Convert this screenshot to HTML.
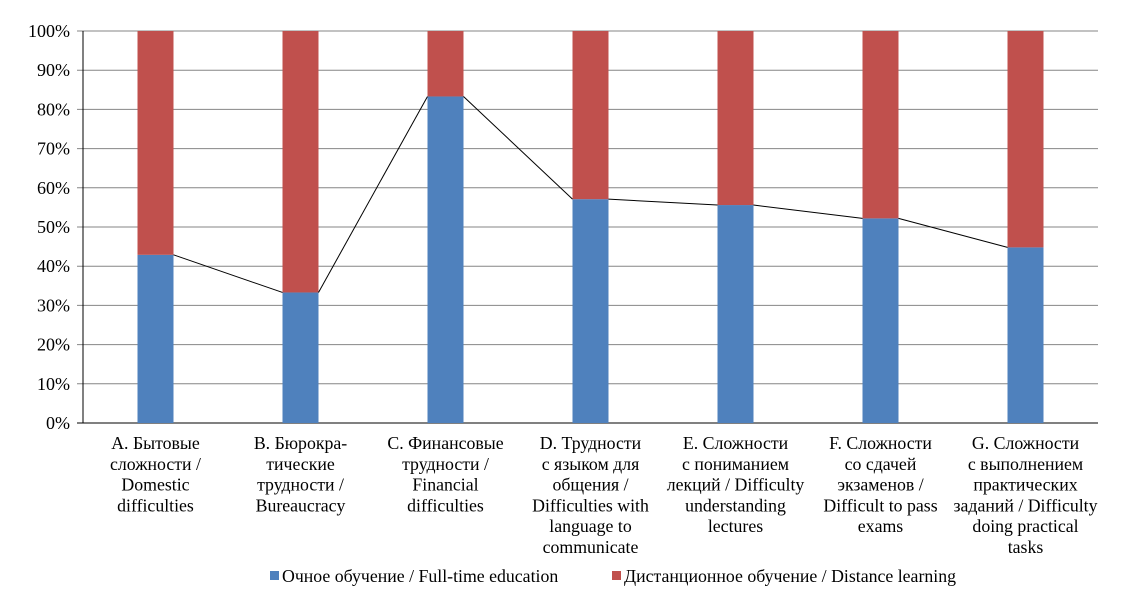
<!DOCTYPE html>
<html><head><meta charset="utf-8"><style>
body{margin:0;background:#fff;}
svg text{font-family:"Liberation Serif","Noto Serif CJK SC",serif;fill:#000;}
</style></head><body>
<svg id="c" width="1142" height="596"></svg>
<script>
const categories=[["A. Бытовые","сложности /","Domestic","difficulties"],["B. Бюрокра-","тические","трудности /","Bureaucracy"],["C. Финансовые","трудности /","Financial","difficulties"],["D. Трудности","с языком для","общения /","Difficulties with","language to","communicate"],["E. Сложности","с пониманием","лекций / Difficulty","understanding","lectures"],["F. Сложности","со сдачей","экзаменов /","Difficult to pass","exams"],["G. Сложности","с выполнением","практических","заданий / Difficulty","doing practical","tasks"]];
const fullTime=[42.9,33.3,83.3,57.1,55.6,52.2,44.8];
const distance=[57.1,66.7,16.7,42.9,44.4,47.8,55.2];
const ticks=[0,10,20,30,40,50,60,70,80,90,100];
const NS="http://www.w3.org/2000/svg";
const svg=document.getElementById('c');
const x0=83,x1=1098,yB=423,yT=31,bw=36;
const cw=(x1-x0)/categories.length;
const y=v=>yB-(yB-yT)*v/100;
const cx=i=>x0+cw*(i+0.5);
function el(t,a,p){const e=document.createElementNS(NS,t);for(const k in a)e.setAttribute(k,a[k]);(p||svg).appendChild(e);return e;}
ticks.forEach(t=>{
 const g=el('line',{x1:x0-6,x2:x1,y1:y(t),y2:y(t),stroke:t===0?'#000':'#868686','stroke-width':1});
 
 
 const tx=el('text',{x:x0-13,y:y(t)+6,'text-anchor':'end','font-size':18});
 tx.textContent=t+'%';
 
 
});
const ax=el('line',{x1:x0,x2:x0,y1:yT,y2:yB,stroke:'#000'});


categories.forEach((c,i)=>{
 const b=el('rect',{x:cx(i)-bw/2,y:y(fullTime[i]),width:bw,height:yB-y(fullTime[i]),fill:'#4f81bd'});
 
 
 const r=el('rect',{x:cx(i)-bw/2,y:y(fullTime[i]+distance[i]),width:bw,height:y(fullTime[i])-y(fullTime[i]+distance[i]),fill:'#c0504d'});
 
 
 const t=el('text',{'text-anchor':'middle','font-size':17.8});
 
 
 c.forEach((l,j)=>{const s=el('tspan',{x:cx(i),y:449+j*20.8},t);s.textContent=l;});
 if(i<categories.length-1){
  const sl=el('line',{x1:cx(i)+bw/2,y1:y(fullTime[i]),x2:cx(i+1)-bw/2,y2:y(fullTime[i+1]),stroke:'#000','stroke-width':1});
  
  
 }
});
[[270,'#4f81bd','Очное обучение / Full-time education'],[612,'#c0504d','Дистанционное обучение / Distance learning']].forEach(([lx,col,lab])=>{
 const g=el('g',{});
 
 
 el('rect',{x:lx,y:571,width:9,height:9,fill:col},g);
 const t=el('text',{x:lx+12,y:582,'font-size':17.8},g);t.textContent=lab;
});
</script>
</body></html>
